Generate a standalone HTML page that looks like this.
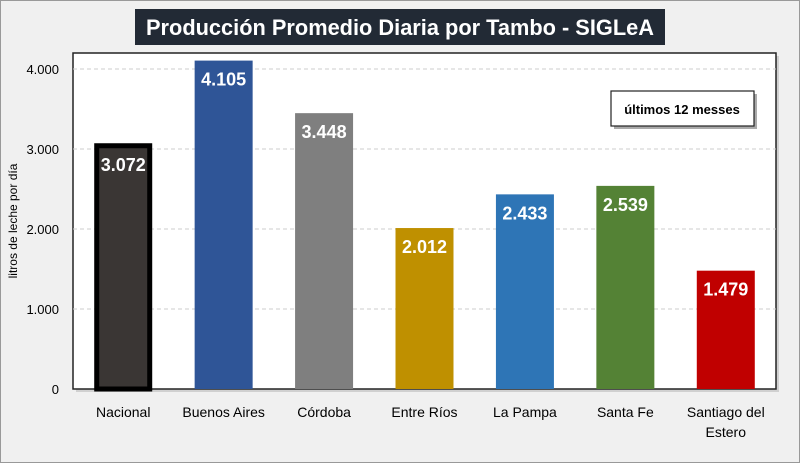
<!DOCTYPE html>
<html><head><meta charset="utf-8"><style>
body{margin:0;background:#fff}
svg{display:block;font-family:"Liberation Sans",sans-serif}
</style></head><body>
<svg id="c" width="800" height="463">
<rect x="0.5" y="0.5" width="799" height="462" fill="#f0f0f0" stroke="#999"/>
<rect x="76" y="56" width="703" height="336" fill="#bbb" opacity="0.6"/>
<rect x="73" y="53" width="703" height="336" fill="#fff" stroke="#222" stroke-width="1.5"/>
<g id="grid"></g>
<g id="bars"></g>
<g id="labels"></g>
<rect x="135" y="9" width="530" height="36" fill="#222a35"/>
<text x="400" y="35" text-anchor="middle" font-size="22" font-weight="bold" fill="#fff" textLength="508" lengthAdjust="spacingAndGlyphs">Producción Promedio Diaria por Tambo - SIGLeA</text>
<rect x="614" y="94" width="143" height="35" fill="#aaa"/>
<rect x="611" y="91" width="143" height="35" fill="#fff" stroke="#222" stroke-width="1.2"/>
<text x="682" y="114" text-anchor="middle" font-size="13" font-weight="bold" fill="#000">últimos 12 messes</text>
<text transform="translate(17,221) rotate(-90)" text-anchor="middle" font-size="12" fill="#000">litros de leche por día</text>
</svg>
<script>
const categories=["Nacional","Buenos Aires","Córdoba","Entre Ríos","La Pampa","Santa Fe","Santiago del Estero"];
const values=[3072,4105,3448,2012,2433,2539,1479];
const valueLabels=["3.072","4.105","3.448","2.012","2.433","2.539","1.479"];
const colors=["#3a3634","#2f5597","#7f7f7f","#bf9000","#2e75b6","#548235","#c00000"];
const ticks=[0,1000,2000,3000,4000];
const tickLabels=["0","1.000","2.000","3.000","4.000"];
const NS="http://www.w3.org/2000/svg";
const L=73,R=776,B=389,T=53;
const y=v=>B-v*0.08;
const bw=(R-L)/categories.length;
const x=i=>L+bw*(i+0.5);
function mk(t,a,p){const e=document.createElementNS(NS,t);for(const k in a)e.setAttribute(k,a[k]);p.appendChild(e);return e;}
const g=document.getElementById('grid'),bg=document.getElementById('bars'),lg=document.getElementById('labels');
ticks.forEach((t,i)=>{
 if(t>0){const l=mk('line',{x1:L,x2:R,y1:y(t),y2:y(t),stroke:'#ccc','stroke-dasharray':'4,3'},g);
 
 }
 const tx=mk('text',{x:59,y:y(t)+5,'text-anchor':'end','font-size':'13',fill:'#000'},lg);
 tx.textContent=tickLabels[i];
 
 
});
categories.forEach((c,i)=>{
 const w=58,cx=x(i);
 const r=mk('rect',{x:cx-w/2,y:y(values[i]),width:w,height:B-y(values[i]),fill:colors[i]},bg);
 if(i===0){r.setAttribute('stroke','#000');r.setAttribute('stroke-width','5');r.setAttribute('x',cx-w/2+2.5);r.setAttribute('width',w-5);r.setAttribute('y',y(values[i])+2.5);r.setAttribute('height',B-y(values[i])-2.5);}
 
 
 const v=mk('text',{x:cx,y:y(values[i])+(i===0?28:25),'text-anchor':'middle','font-size':'18','font-weight':'bold',fill:'#fff'},lg);
 v.textContent=valueLabels[i];
 
 
 const words=c==="Santiago del Estero"?["Santiago del","Estero"]:[c];
 words.forEach((wd,j)=>{
  const t=mk('text',{x:cx,y:417+j*20,'text-anchor':'middle','font-size':'14',fill:'#000'},lg);
  t.textContent=wd;
  
  
 });
});
</script>
</body></html>
